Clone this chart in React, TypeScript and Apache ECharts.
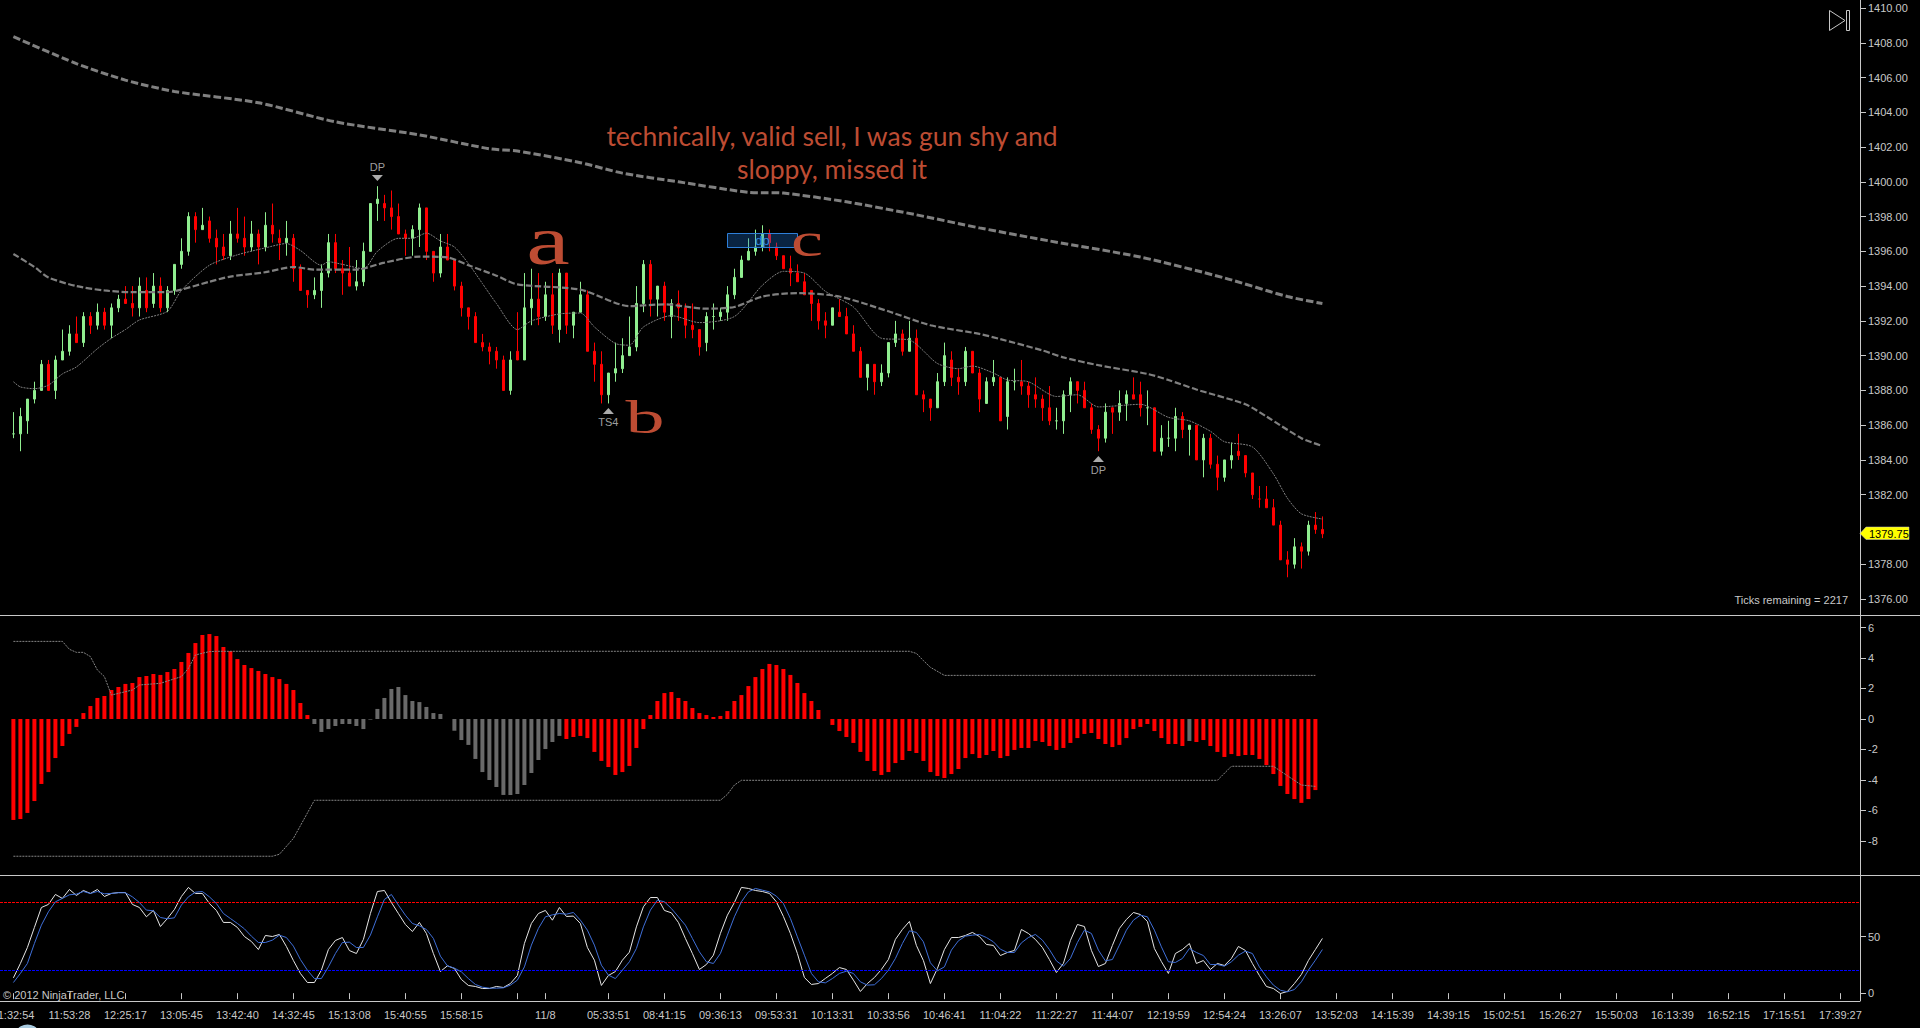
import React, { useEffect, useRef } from "react";
import * as echarts from "echarts";

// [open, close, low, high] per bar
const ohlc: number[][] = [
[1385.5,1385.5,1385.25,1386.75],[1385.5,1386.5,1384.5,1387],[1386.25,1387.5,1385.5,1387.5],[1387.5,1388,1387.25,1388.5],
[1388,1389.5,1388,1389.75],[1389.5,1388,1388,1389.75],[1388,1389.75,1387.5,1390],[1389.75,1390.25,1389.75,1391.5],
[1390.25,1391.25,1390,1391.75],[1391.25,1390.75,1390.75,1392.25],[1390.75,1392.25,1390.5,1392.5],[1392.25,1391.75,1391.25,1392.5],
[1391.75,1392.5,1391.5,1393],[1392.5,1391.75,1391.5,1392.75],[1391.75,1392.75,1391,1393],[1392.75,1393.25,1392.5,1393.5],
[1393.25,1393,1393,1394],[1393,1392.75,1392.25,1394],[1392.75,1394,1392.25,1394.5],[1393.75,1392.75,1392.5,1394.5],
[1393,1394,1392.75,1394.75],[1394,1392.75,1392.5,1394.5],[1392.75,1393.75,1392.5,1394],[1393.75,1395.25,1393.5,1395.25],
[1395.25,1396,1395,1396.75],[1396,1398,1395.75,1398.25],[1398,1397.25,1396.5,1398.25],[1397.25,1397.5,1397.25,1398.5],
[1397.75,1396.75,1396.5,1398],[1396.75,1396.25,1395.25,1397.25],[1396.25,1395.75,1395.5,1397],[1395.75,1397,1395.5,1397.75],
[1397,1396.75,1396.5,1398.5],[1396.75,1396.25,1395.75,1398],[1396.25,1397,1396,1397.75],[1397,1396.25,1395.25,1397.25],
[1396.25,1397.5,1396,1398.25],[1397.5,1397,1396.5,1398.75],[1396.75,1396.5,1395.5,1397.25],[1396.5,1396.75,1395.75,1397.75],
[1396.75,1395,1394.25,1397],[1395,1393.75,1393.75,1395.25],[1393.75,1393.5,1392.75,1393.75],[1393.5,1393.75,1393.25,1394.5],
[1393.75,1394.75,1392.75,1395.25],[1394.75,1396.5,1394.5,1397],[1396.5,1395,1394.75,1397],[1395,1394.75,1393.5,1395.5],
[1394.75,1394,1394,1396.25],[1394,1394.25,1393.75,1395.5],[1394.25,1396,1394,1396.5],[1396,1398.75,1396,1398.75],
[1398.75,1399,1397.75,1399.75],[1398.75,1398.5,1397.75,1399.25],[1398.5,1398,1397.25,1399.5],[1398,1397,1397,1398.75],
[1397,1396.75,1395.75,1397.25],[1396.75,1397.25,1395.75,1397.5],[1397.25,1398.5,1396.25,1398.75],[1398.5,1396,1395.5,1398.5],
[1396,1394.75,1394.25,1396],[1394.75,1396.25,1394.5,1397],[1396.25,1395.5,1395.5,1397],[1395.5,1394,1393.75,1395.5],
[1394,1392.75,1392.25,1394.25],[1392.75,1392.25,1391.5,1392.75],[1392.25,1390.75,1390.75,1392.5],[1390.75,1390.5,1390.25,1391.25],
[1390.5,1390.25,1389.5,1390.75],[1390.25,1389.75,1389.25,1390.5],[1389.75,1388,1388,1390],[1388,1389.75,1387.75,1390.25],
[1390.25,1389.75,1389.75,1392.5],[1389.75,1392.75,1389.75,1394.75],[1392.75,1393.25,1391.75,1395],[1393.25,1392.25,1391.75,1394.75],
[1392.25,1393.5,1392,1394.25],[1393.5,1391.75,1391.25,1394.75],[1391.5,1394.75,1390.75,1395],[1394.75,1391.75,1391.25,1394.75],
[1391.75,1392.5,1391,1392.5],[1392.5,1393.5,1392.5,1394.25],[1393.5,1390.25,1390.25,1393.75],[1390.25,1389.5,1388.5,1390.75],
[1389.5,1387.75,1387.25,1390.25],[1387.75,1389,1387.25,1389],[1389,1389.25,1388.5,1390.75],[1389.25,1390,1389,1391],
[1390,1390.5,1390,1392.25],[1390.5,1393,1390.25,1394],[1393,1395.25,1392.5,1395.5],[1395.25,1393.25,1392.25,1395.5],
[1393.25,1394,1392.25,1394],[1394,1392.5,1392,1394.25],[1392.25,1393,1391,1393.25],[1393,1392.75,1392,1393.75],
[1392.75,1391.75,1391,1393],[1391.75,1391.5,1391,1393],[1391.5,1390.5,1390,1391.5],[1390.75,1392.25,1390.25,1392.5],
[1392.25,1392.25,1391.5,1393],[1392.25,1392.5,1392,1392.75],[1392.5,1393.5,1392,1394],[1393.5,1394.5,1393.25,1395],
[1394.5,1395.5,1394.5,1395.75],[1395.5,1396,1395.5,1396.75],[1396,1396.25,1395.75,1397.25],[1396.25,1397,1396,1397.5],
[1397,1396.5,1396,1397.25],[1396.25,1395.75,1395.5,1396.5],[1395.75,1395,1395,1395.75],[1395,1394.75,1394,1395.75],
[1394.75,1394.25,1394.25,1395.25],[1394.25,1393.5,1393.5,1394.75],[1393.75,1393,1392,1393.75],[1393,1392,1391.5,1393.25],
[1392,1391.75,1391,1392.5],[1391.75,1392.75,1391.75,1392.75],[1392.5,1392.25,1392.25,1393.25],[1392.25,1391.25,1391.25,1392.75],
[1391.25,1390.25,1390.25,1391.75],[1390.25,1388.75,1388.75,1390.5],[1388.75,1389.5,1388,1389.5],[1389.5,1388.5,1387.75,1389.5],
[1388.5,1389,1388.25,1389.5],[1389,1390.75,1388.75,1390.75],[1390.75,1391.25,1390.5,1392],[1391.25,1390.25,1390,1391.5],
[1390.25,1391,1390.25,1392],[1391,1387.75,1387.75,1391.5],[1387.75,1387.5,1386.75,1388],[1387.5,1387,1386.25,1387.5],
[1387,1388.5,1387,1389],[1388.5,1390,1388.25,1390.75],[1389.75,1388.75,1388.25,1390.25],[1388.75,1388.5,1387.75,1389.25],
[1388.5,1390.25,1388.25,1390.5],[1390.25,1389,1389,1390.25],[1389,1387.5,1386.75,1389.25],[1387.25,1388.5,1387.25,1388.75],
[1388.5,1388.75,1388.25,1389.75],[1388.75,1386.25,1386.25,1388.75],[1386.5,1388.5,1385.75,1388.75],[1388.5,1388.5,1388,1389.25],
[1388.5,1388.25,1387.75,1389.75],[1388.25,1387.75,1387,1388.5],[1387.75,1387.5,1387,1388.75],[1387.5,1387,1386.25,1387.75],
[1387,1386.25,1386,1388.25],[1386.25,1386.25,1385.75,1387],[1386.25,1387.75,1385.5,1388],[1387.75,1388.5,1386.75,1388.75],
[1388.5,1388,1387.25,1388.5],[1388,1387,1387,1388.5],[1387,1385.75,1385.5,1387.25],[1385.75,1385.25,1384.5,1386],
[1385.25,1386.75,1385,1387.25],[1387,1386.75,1385.5,1387],[1386.75,1387.25,1386.25,1388],[1387.25,1387.75,1386.25,1388],
[1387.75,1387.5,1387.5,1388.75],[1387.75,1387,1386.5,1388.5],[1387,1387,1386,1388],[1387,1384.5,1384.5,1387],
[1384.5,1385.25,1384.25,1386],[1385.25,1385.25,1384.75,1386.25],[1385.25,1386.5,1384.5,1387],[1386.5,1385.75,1385.25,1386.75],
[1385.75,1386,1384.25,1386],[1386,1384,1384,1386],[1384,1385.25,1383,1385.5],[1385.25,1383.75,1383.5,1385.5],
[1383.75,1383,1382.25,1384.25],[1383,1384,1382.75,1384],[1384,1384.25,1383.5,1385],[1384.5,1384.25,1384,1385.5],
[1384.25,1383.25,1383,1384.25],[1383.25,1382,1381.75,1383.25],[1381.75,1381.75,1381.25,1382.5],[1381.75,1381.25,1381.25,1382.5],
[1381.25,1380.25,1380.25,1381.75],[1380.25,1378.25,1378.25,1380.5],[1378.25,1378,1377.25,1378.75],[1378,1379,1377.75,1379.5],
[1379,1378.75,1377.75,1379.25],[1378.75,1380.25,1378.5,1380.5],[1380.25,1380,1379.75,1381],[1380,1379.75,1379.5,1380.75],
];

// [bar, value] readings of the three moving averages on the price panel
const slowAverage: number[][] = [[0,1408.35],[9,1406.8],[16,1405.85],[23,1405.2],[35,1404.55],[46,1403.45],[58,1402.7],[68,1401.9],[72,1401.77],[81,1401.1],[87,1400.5],[95,1400],[105,1399.4],[110,1399.35],[119,1398.85],[129,1398.1],[138,1397.35],[148,1396.6],[161,1395.67],[173,1394.47],[182,1393.4],[187,1393]];
const midAverage: number[][] = [[0,1395.85],[3,1395.1],[5,1394.5],[9,1394],[13,1393.75],[17,1393.65],[22,1393.65],[24,1393.8],[28,1394.25],[31,1394.55],[36,1394.8],[40,1395.1],[43,1394.95],[49,1394.95],[53,1395.35],[58,1395.7],[62,1395.65],[65,1395.2],[69,1394.6],[72,1394.1],[81,1393.8],[88,1392.85],[93,1392.95],[99,1392.7],[103,1392.8],[107,1393.4],[112,1393.6],[118,1393.4],[125,1392.55],[131,1391.75],[138,1391.25],[141,1390.95],[147,1390.3],[150,1389.9],[155,1389.45],[162,1388.95],[165,1388.6],[169,1388.05],[176,1387.2],[179,1386.5],[184,1385.25],[187,1384.8]];
const fastAverage: number[][] = [[0,1388.5],[1,1388.2],[3,1388.1],[5,1388.3],[7,1388.95],[9,1389.35],[12,1390.4],[14,1391],[16,1391.5],[18,1392.05],[22,1392.55],[24,1393.75],[28,1395.2],[32,1395.8],[36,1396.2],[39,1396.45],[41,1396.05],[44,1395.2],[45,1395.4],[47,1395.25],[50,1395],[52,1396],[55,1396.75],[57,1396.75],[59,1397.05],[61,1396.6],[63,1396.25],[65,1395.3],[67,1394.15],[69,1393],[72,1391.5],[74,1392],[78,1392.4],[81,1392.45],[83,1391.65],[86,1390.7],[88,1390.6],[90,1391.65],[94,1392.3],[98,1391.9],[103,1392.25],[107,1394.05],[110,1394.85],[113,1394.75],[116,1393.7],[120,1392.8],[124,1391],[128,1390.9],[132,1389.55],[135,1389.25],[137,1389.4],[140,1389],[142,1388.6],[145,1388.5],[149,1387.65],[152,1387.75],[155,1387.05],[161,1387.2],[165,1386.45],[168,1386.25],[171,1385.65],[173,1385.05],[177,1384.75],[180,1383.2],[182,1381.8],[184,1380.9],[187,1380.6]];

const priceTicks = [1410,1408,1406,1404,1402,1400,1398,1396,1394,1392,1390,1388,1386,1384,1382,1378,1376];
const lastPrice = 1379.75;

// [bar, price, text] of the chart's signal markers
const signalBars = [52, 85, 155];
const signalPrices = [1400.22, 1386.81, 1384.05];
const signalTexts = ["DP", "TS4", "DP"];

// Oscillator histogram
const histogram = [
-6.62,-6.56,-6.16,-5.38,-4.26,-3.48,-2.56,-1.77,-0.98,-0.52,0.39,0.85,1.38,1.51,1.9,2.1,2.3,2.36,2.75,2.82,2.95,2.89,3.08,3.28,3.74,4.33,4.98,5.51,5.57,5.44,4.72,4.46,3.93,3.54,3.34,3.15,2.95,2.75,2.62,2.3,1.9,1.05,0.26,
-0.33,-0.85,-0.66,-0.46,-0.33,-0.33,-0.46,-0.66,-0.04,0.66,1.38,1.97,2.1,1.57,1.18,1.11,0.79,0.39,0.33,0,-0.77,-1.38,-1.7,-2.62,-3.48,-4,-4.46,-4.98,-4.98,-4.92,-4.33,-3.54,-2.69,-1.97,-1.51,-1.11,
-1.31,-1.18,-1.11,-1.25,-2.16,-2.75,-3.15,-3.67,-3.48,-3.08,-1.9,-0.66,0.26,1.18,1.7,1.77,1.38,1.18,0.72,0.39,0.26,0.13,0.2,0.52,1.18,1.57,2.16,2.75,3.28,3.61,3.54,3.28,2.89,2.36,1.7,1.18,0.59,0,
-0.39,-0.79,-1.18,-1.57,-2.16,-2.75,-3.41,-3.67,-3.48,-2.89,-2.69,-2.1,-2.23,-2.75,-3.48,-3.74,-3.87,-3.61,-3.28,-2.56,-2.3,-2.56,-2.36,-2.1,-2.56,-2.43,-2.03,-1.9,-1.9,-1.44,-1.51,-1.77,-2.03,-1.9,-1.57,-1.25,-0.98,-0.92,-1.31,-1.64,-1.84,-1.7,-1.25,-0.66,-0.52,-0.33,-0.79,-1.25,-1.64,-1.64,-1.77,-1.44,-1.51,-1.38,-1.77,-2.16,-2.49,-2.3,-2.43,-2.36,-2.36,-2.62,-3.02,-3.61,-4.39,-4.92,-5.25,-5.5,-5.25,-4.66,
];
// First and last bar of each stretch of the histogram that is neutral
const neutralStretches = [[43, 78], [168, 168]];
const histogramTicks = [-8, -6, -4, -2, 0, 2, 4, 6];

const upperBand: number[][] = [[0,5.09],[7,5.09],[8,4.57],[9,4.37],[10,4.37],[11,4.09],[12,3.21],[13,2.78],[14,1.57],[15,1.68],[17,1.9],[18,2.23],[21,2.34],[24,2.78],[25,3.32],[26,4.2],[28,4.42],[29,4.44],[128,4.44],[129,4.3],[130,3.83],[131,3.39],[133,2.86],[186,2.86]];
const lowerBand: number[][] = [[0,-9],[37,-9],[38,-8.87],[40,-7.83],[43,-5.33],[101,-5.33],[102,-4.94],[103,-4.33],[104,-4.02],[172,-4.02],[174,-3.1],[180,-3.1],[182,-3.72],[184,-4.33],[186,-4.42]];

// Stochastic lines
const stochK = [
13.5,26.2,40.3,58,75.6,78.3,87.1,83.6,91.5,86.2,90.6,88,91.5,85.3,88,88.8,88.8,78.3,75.6,67.4,73,58.8,65.9,73.8,85.3,93.3,88,88,79.1,73,62.4,62.4,58,50,45.6,38.5,50.9,50,51.8,41.2,28.8,17.4,9.4,9.4,20.3,38.5,46.5,49.1,37.6,35,47.4,70.3,89.7,90.6,80,70.3,60.6,54.4,62.4,52.7,35,19.1,24.1,21.8,12.1,6.8,5.9,4.1,4.1,5.9,5,8.5,15.6,43.8,61.5,70.3,73,64.4,75.6,67.7,68,61.5,40.3,29.1,6.8,15.6,19.1,29.1,36.2,58.5,76.2,84.4,84.4,
73,70.9,62.4,48.3,35,20.9,25.3,33.5,52.7,68.8,80,93.3,92.4,90.6,89.7,88,80.6,67.7,52.7,35,13.8,7.7,8.5,13,17.4,22.6,20.9,11.5,1.5,8.5,13.8,20.9,29.7,47.4,56.2,63.3,42.1,28.8,8.5,21.8,38.5,49.1,49.1,50.9,53.6,50,43,42.1,33.2,35.9,37.7,56.2,52.7,47.4,40.3,29.7,18.2,26.2,46.5,60.6,58.8,37.7,23.5,26.2,42.1,57.1,65,71.2,69.4,63.3,39.4,27.9,17.4,35,38.5,43.8,26.2,28.8,20.9,26.2,24.4,30.6,41.2,37.7,26.2,15.6,5.9,4.1,-0.3,1.5,8.5,16.5,28.8,38.5,48.3,
];
const stochD = [
9.4,17.4,26.2,43.8,60,71.8,80.6,83.6,86.8,87.4,89.7,88,89.7,87.7,88,88.6,88.6,85,80,73.3,72.7,66.8,65.6,66.5,77.7,85,89.1,89.7,85,79.1,70.3,65.9,61.5,56.8,50.3,44.7,44.7,46.8,51.2,49.1,41.5,29.7,20.3,12.9,12.9,23.2,35,44.7,45,40.3,40.3,51.2,67.4,82.7,87.1,77.7,68.8,61.5,59.4,56.2,48.3,32.7,24.1,22.1,18.8,12.9,7.7,5.3,4.4,4.4,4.7,7.1,11.5,23.2,42.4,57.1,67.4,69.1,70.3,69.7,71.2,64.4,55.6,42.4,24.7,15.9,12.9,20.3,27.7,39.4,58.5,73.3,82.1,
80.6,74.7,67.4,60,48.3,36.5,27.7,26.2,35,51.2,67.4,80.6,89.4,92.4,90.9,89.4,85.6,79.1,65.9,49.7,33.5,17.4,10,9.1,12.9,17.4,19.4,17.4,10,7.1,7.4,12.9,20.3,30.6,43.8,55,53.6,45.3,26.8,19.7,23.2,38,46.2,50.3,51.2,51.8,49.1,45.3,38.8,35.9,35.9,44.4,49.1,51.8,46.8,38.5,28.5,23.8,30.6,44.7,55.6,52.7,38,28.5,29.7,42.4,55.6,64.4,68.8,67.4,55.6,40.9,27.7,27.1,30.6,39.4,35.9,33.2,25.3,25.3,23.8,27.7,33.5,37.1,35,23.2,14.4,7.1,2.6,1.2,3.2,10,20.3,29.1,38.5,
];
const stochTicks = [0, 50];
const stochLevels = [80, 20];

// Bar numbers and labels of the time axis
const timeTickBars = [0,8,16,24,32,40,48,56,64,72,76,85,93,101,109,117,125,133,141,149,157,165,173,181,189,197,205,213,221,229,237,245,253,261];
const timeTickLabels = ["11:32:54","11:53:28","12:25:17","13:05:45","13:42:40","14:32:45","15:13:08","15:40:55","15:58:15","","11/8","05:33:51","08:41:15","09:36:13","09:53:31","10:13:31","10:33:56","10:46:41","11:04:22","11:22:27","11:44:07","12:19:59","12:54:24","13:26:07","13:52:03","14:15:39","14:39:15","15:02:51","15:26:27","15:50:03","16:13:39","16:52:15","17:15:51","17:39:27"];

const noteLines = "technically, valid sell, I was gun shy and\nsloppy, missed it";
const copyright = "© 2012 NinjaTrader, LLC";
const ticksRemaining = "Ticks remaining = 2217";

const FONT = '"Liberation Sans", Arial, sans-serif';
const TEXT = "#c8c8c8";
const RULE = "#c8c8c8";
const NOTE = "#bd4c33";

const barPx = 7;
const firstBarPx = 13.4;
const axisPx = 1860;
const xMin = -firstBarPx / barPx;
const xMax = (axisPx - firstBarPx) / barPx;

function xAxis(gridIndex: number, show: boolean) {
  return {
    type: "value",
    gridIndex,
    min: xMin,
    max: xMax,
    splitLine: { show: false },
    axisLine: { show: false },
    axisTick: show
      ? { show: true, length: 6, inside: false, lineStyle: { color: RULE }, customValues: timeTickBars }
      : { show: false },
    axisLabel: show
      ? {
          show: true,
          color: TEXT,
          fontFamily: FONT,
          fontSize: 11,
          margin: 8,
          customValues: timeTickBars.filter((_, i) => timeTickLabels[i] !== ""),
          formatter: (v: number) => timeTickLabels[timeTickBars.indexOf(v)] ?? "",
        }
      : { show: false },
  };
}

function yAxis(gridIndex: number, min: number, max: number, ticks: number[], digits: number) {
  return {
    type: "value",
    position: "right",
    gridIndex,
    min,
    max,
    splitLine: { show: false },
    axisLine: { show: true, onZero: false, lineStyle: { color: RULE, width: 1 } },
    axisTick: { show: true, length: 6, lineStyle: { color: RULE }, customValues: ticks },
    axisLabel: {
      color: TEXT,
      fontFamily: FONT,
      fontSize: 11,
      margin: 8,
      customValues: ticks,
      formatter: (v: number) => v.toFixed(digits),
    },
  };
}

function averageSeries(data: number[][], width: number, dash: number[], name: string) {
  return {
    type: "line",
    name,
    xAxisIndex: 0,
    yAxisIndex: 0,
    data,
    showSymbol: false,
    smooth: 0.25,
    z: 5,
    lineStyle: { color: "#808080", width, type: dash },
  };
}

function bandSeries(data: number[][], name: string) {
  return {
    type: "line",
    name,
    xAxisIndex: 1,
    yAxisIndex: 1,
    data,
    showSymbol: false,
    z: 5,
    lineStyle: { color: "#858585", width: 1, type: [2, 1] },
  };
}

function isNeutral(i: number) {
  return neutralStretches.some(([a, b]) => i >= a && i <= b);
}

export default function App() {
  const ref = useRef<HTMLDivElement>(null);

  useEffect(() => {
    const chart = echarts.init(ref.current!, null, { renderer: "svg" });
    chart.setOption({
      animation: false,
      backgroundColor: "#000000",
      grid: [
        { left: 0, width: axisPx, top: 0, height: 615.5, outerBoundsMode: "none" },
        { left: 0, width: axisPx, top: 615.5, height: 259.5, outerBoundsMode: "none" },
        { left: 0, width: axisPx, top: 875, height: 126, outerBoundsMode: "none" },
      ],
      xAxis: [xAxis(0, false), xAxis(1, false), xAxis(2, true)],
      yAxis: [
        yAxis(0, 1375.05, 1410.46, priceTicks, 2),
        yAxis(1, -10.23, 6.787, histogramTicks, 0),
        yAxis(2, -6.91, 104.27, stochTicks, 0),
      ],
      series: [
        {
          type: "candlestick",
          name: "Price",
          xAxisIndex: 0,
          yAxisIndex: 0,
          barWidth: 3,
          z: 3,
          data: ohlc.map((row, i) => [i, ...row]),
          itemStyle: { color: "#90ee90", color0: "#ff0000", borderColor: "#90ee90", borderColor0: "#ff0000", borderWidth: 1 },
        },
        averageSeries(slowAverage, 3, [7.5, 3], "Slow average"),
        averageSeries(midAverage, 2.2, [6.5, 2.5], "Mid average"),
        averageSeries(fastAverage, 1, [2, 1], "Fast average"),
        {
          type: "scatter",
          name: "Signals",
          xAxisIndex: 0,
          yAxisIndex: 0,
          z: 6,
          symbol: "triangle",
          symbolSize: [11, 6],
          itemStyle: { color: "#d6d6d6" },
          data: signalBars.map((bar, i) => {
            const down = signalPrices[i] > ohlc[bar][3];
            return {
              value: [bar, signalPrices[i]],
              symbolRotate: down ? 180 : 0,
              label: {
                show: true,
                formatter: signalTexts[i],
                position: down ? "top" : "bottom",
                distance: 2,
                color: TEXT,
                fontFamily: FONT,
                fontSize: 11,
              },
            };
          }),
        },
        {
          type: "bar",
          name: "Histogram",
          xAxisIndex: 1,
          yAxisIndex: 1,
          barWidth: 4,
          z: 3,
          data: histogram.map((v, i) => [i, v]),
          itemStyle: {
            color: (p: any) => (isNeutral(p.dataIndex) ? "#696969" : "#ff0000"),
          },
        },
        bandSeries(upperBand, "Upper band"),
        bandSeries(lowerBand, "Lower band"),
        {
          type: "line",
          name: "%K",
          xAxisIndex: 2,
          yAxisIndex: 2,
          data: stochK.map((v, i) => [i, v]),
          showSymbol: false,
          z: 4,
          lineStyle: { color: "#e6e6e6", width: 1 },
          markLine: {
            silent: true,
            symbol: "none",
            label: { show: false },
            data: stochLevels.map((v, i) => ({
              yAxis: v,
              lineStyle: { color: i === 0 ? "#ff0000" : "#0000ff", width: 1, type: [3, 1] },
            })),
          },
        },
        {
          type: "line",
          name: "%D",
          xAxisIndex: 2,
          yAxisIndex: 2,
          data: stochD.map((v, i) => [i, v]),
          showSymbol: false,
          z: 5,
          lineStyle: { color: "#3f6fd8", width: 1 },
        },
      ],
      graphic: [
        { type: "line", z: 20, shape: { x1: 0, y1: 615.5, x2: 1920, y2: 615.5 }, style: { stroke: RULE, lineWidth: 1 } },
        { type: "line", z: 20, shape: { x1: 0, y1: 875.5, x2: 1920, y2: 875.5 }, style: { stroke: RULE, lineWidth: 1 } },
        { type: "line", z: 20, shape: { x1: 0, y1: 1001.5, x2: 1860, y2: 1001.5 }, style: { stroke: RULE, lineWidth: 1 } },
        // end-of-chart button
        { type: "polygon", z: 20, shape: { points: [[1829.5, 10.5], [1845, 20.5], [1829.5, 30.5]] }, style: { fill: "none", stroke: RULE, lineWidth: 1 } },
        { type: "rect", z: 20, shape: { x: 1846.5, y: 10.5, width: 3, height: 20 }, style: { fill: "none", stroke: RULE, lineWidth: 1 } },
        // last price tag
        { type: "polygon", z: 20, shape: { points: [[1860, 533.5], [1866, 527], [1909, 527], [1909, 539.5], [1866, 539.5]] }, style: { fill: "#ffff00", stroke: "#c8c8c8", lineWidth: 0.5 } },
        { type: "text", z: 21, x: 1869, y: 533.5, style: { text: lastPrice.toFixed(2), fill: "#000000", font: `11px ${FONT}`, textVerticalAlign: "middle" } },
        // notes
        { type: "text", z: 21, x: 832, y: 152, style: { text: noteLines, fill: NOTE, font: `26.5px Lato, sans-serif`, lineHeight: 33, textAlign: "center", textVerticalAlign: "middle" } },
        { type: "rect", z: 21, shape: { x: 727.5, y: 233.5, width: 70, height: 14 }, style: { fill: "rgba(30,120,220,0.3)", stroke: "#2e7fd8", lineWidth: 1 } },
        { type: "text", z: 22, x: 762.5, y: 240.5, style: { text: "dp", fill: "#2e86e0", font: `13px ${FONT}`, textAlign: "center", textVerticalAlign: "middle" } },
        { type: "text", z: 23, x: 548, y: 240, scaleX: 1.4, style: { text: "a", fill: NOTE, font: `70px "Liberation Serif", serif`, textAlign: "center", textVerticalAlign: "middle" } },
        { type: "text", z: 23, x: 645, y: 418, scaleX: 1.7, style: { text: "b", fill: NOTE, font: `46px "Liberation Serif", serif`, textAlign: "center", textVerticalAlign: "middle" } },
        { type: "text", z: 23, x: 807, y: 240, scaleX: 1.5, style: { text: "c", fill: NOTE, font: `48px "Liberation Serif", serif`, textAlign: "center", textVerticalAlign: "middle" } },
        // captions
        { type: "text", z: 21, x: 1848, y: 600, style: { text: ticksRemaining, fill: TEXT, font: `11px ${FONT}`, textAlign: "right", textVerticalAlign: "middle" } },
        { type: "text", z: 21, x: 3, y: 995, style: { text: copyright, fill: TEXT, font: `11px ${FONT}`, textVerticalAlign: "middle" } },
        { type: "circle", z: 21, shape: { cx: 27.5, cy: 1038, r: 13.5 }, style: { fill: "#a9cbe0" } },
      ],
    });
    return () => chart.dispose();
  }, []);

  return <div ref={ref} style={{ position: "absolute", left: 0, top: 0, width: 1920, height: 1028 }} />;
}
